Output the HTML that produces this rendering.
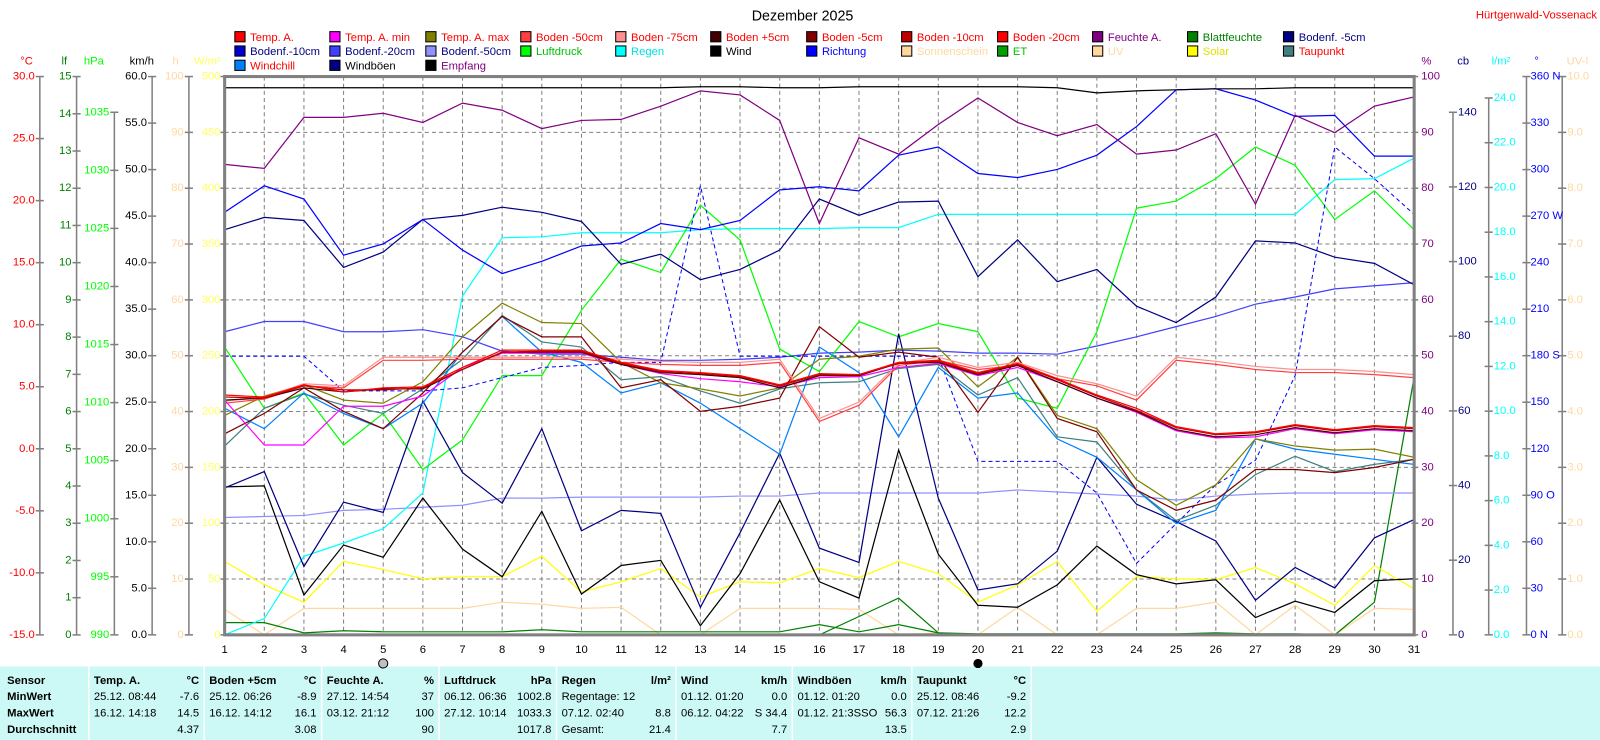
<!DOCTYPE html>
<html><head><meta charset="utf-8"><style>
html,body{margin:0;padding:0;background:#fff;overflow:hidden}
svg{display:block;font-family:"Liberation Sans",sans-serif;font-size:11px}
</style></head><body>
<svg id="s" width="1600" height="740" viewBox="0 0 1567 725" preserveAspectRatio="none" xmlns="http://www.w3.org/2000/svg">
<rect x="0" y="653" width="1567" height="72" fill="#ccf8f6"/>
<g id="grid"></g>
<g id="lines" fill="none" stroke-width="1.2"></g>
<rect x="220" y="75" width="1165" height="547" fill="none" stroke="#808080" stroke-width="3"/>
<g id="ax" stroke="#808080" stroke-width="1.5"></g>
<text x="786" y="20" text-anchor="middle" font-size="14">Dezember 2025</text>
<text x="1564" y="18" text-anchor="end" fill="#ff0000">Hürtgenwald-Vossenack</text>
<g id="leg"></g>
<g font-size="11">
<text x="26" y="63" fill="#ff0000" text-anchor="middle">°C</text>
<text x="63" y="63" fill="#008000" text-anchor="middle">lf</text>
<text x="92" y="63" fill="#00ff00" text-anchor="middle">hPa</text>
<text x="127" y="63" fill="#000">km/h</text>
<text x="172" y="63" fill="#ffd8a0" text-anchor="middle">h</text>
<text x="203" y="63" fill="#ffff60" text-anchor="middle">W/m²</text>
<text x="1397" y="63" fill="#800080" text-anchor="middle">%</text>
<text x="1433" y="63" fill="#000080" text-anchor="middle">cb</text>
<text x="1470" y="63" fill="#00ffff" text-anchor="middle">l/m²</text>
<text x="1505" y="63" fill="#0000ff" text-anchor="middle">°</text>
<text x="1545" y="63" fill="#ffd8a0" text-anchor="middle">UV-I</text>
</g>
<g fill="#ff0000" text-anchor="end" dominant-baseline="central">
<text x="34" y="75">30.0</text><text x="34" y="135.8">25.0</text><text x="34" y="196.6">20.0</text><text x="34" y="257.3">15.0</text><text x="34" y="318.1">10.0</text><text x="34" y="378.9">5.0</text><text x="34" y="439.7">0.0</text><text x="34" y="500.4">-5.0</text><text x="34" y="561.2">-10.0</text><text x="34" y="622">-15.0</text>
</g>
<g fill="#008000" text-anchor="end" dominant-baseline="central">
<text x="70" y="75">15</text><text x="70" y="111.5">14</text><text x="70" y="147.9">13</text><text x="70" y="184.4">12</text><text x="70" y="220.9">11</text><text x="70" y="257.3">10</text><text x="70" y="293.8">9</text><text x="70" y="330.3">8</text><text x="70" y="366.7">7</text><text x="70" y="403.2">6</text><text x="70" y="439.7">5</text><text x="70" y="476.1">4</text><text x="70" y="512.6">3</text><text x="70" y="549.1">2</text><text x="70" y="585.5">1</text><text x="70" y="622">0</text>
</g>
<g fill="#00ff00" text-anchor="end" dominant-baseline="central">
<text x="107" y="110">1035</text><text x="107" y="166.9">1030</text><text x="107" y="223.8">1025</text><text x="107" y="280.7">1020</text><text x="107" y="337.6">1015</text><text x="107" y="394.4">1010</text><text x="107" y="451.3">1005</text><text x="107" y="508.2">1000</text><text x="107" y="565.1">995</text><text x="107" y="622">990</text>
</g>
<g fill="#000" text-anchor="end" dominant-baseline="central">
<text x="144" y="75">60.0</text><text x="144" y="120.6">55.0</text><text x="144" y="166.2">50.0</text><text x="144" y="211.8">45.0</text><text x="144" y="257.3">40.0</text><text x="144" y="302.9">35.0</text><text x="144" y="348.5">30.0</text><text x="144" y="394.1">25.0</text><text x="144" y="439.7">20.0</text><text x="144" y="485.3">15.0</text><text x="144" y="530.8">10.0</text><text x="144" y="576.4">5.0</text><text x="144" y="622">0.0</text>
</g>
<g fill="#ffd8a0" text-anchor="end" dominant-baseline="central">
<text x="180" y="75">100</text><text x="180" y="129.7">90</text><text x="180" y="184.4">80</text><text x="180" y="239.1">70</text><text x="180" y="293.8">60</text><text x="180" y="348.5">50</text><text x="180" y="403.2">40</text><text x="180" y="457.9">30</text><text x="180" y="512.6">20</text><text x="180" y="567.3">10</text><text x="180" y="622">0</text>
</g>
<g fill="#ffff60" text-anchor="end" dominant-baseline="central">
<text x="216" y="75">500</text><text x="216" y="129.7">450</text><text x="216" y="184.4">400</text><text x="216" y="239.1">350</text><text x="216" y="293.8">300</text><text x="216" y="348.5">250</text><text x="216" y="403.2">200</text><text x="216" y="457.9">150</text><text x="216" y="512.6">100</text><text x="216" y="567.3">50</text><text x="216" y="622">0</text>
</g>
<g fill="#800080" dominant-baseline="central">
<text x="1392" y="75">100</text><text x="1392" y="129.7">90</text><text x="1392" y="184.4">80</text><text x="1392" y="239.1">70</text><text x="1392" y="293.8">60</text><text x="1392" y="348.5">50</text><text x="1392" y="403.2">40</text><text x="1392" y="457.9">30</text><text x="1392" y="512.6">20</text><text x="1392" y="567.3">10</text><text x="1392" y="622">0</text>
</g>
<g fill="#000080" dominant-baseline="central">
<text x="1428" y="110">140</text><text x="1428" y="183.1">120</text><text x="1428" y="256.3">100</text><text x="1428" y="329.4">80</text><text x="1428" y="402.6">60</text><text x="1428" y="475.7">40</text><text x="1428" y="548.9">20</text><text x="1428" y="622">0</text>
</g>
<g fill="#00ffff" dominant-baseline="central">
<text x="1463" y="96">24.0</text><text x="1463" y="139.8">22.0</text><text x="1463" y="183.7">20.0</text><text x="1463" y="227.5">18.0</text><text x="1463" y="271.3">16.0</text><text x="1463" y="315.2">14.0</text><text x="1463" y="359">12.0</text><text x="1463" y="402.8">10.0</text><text x="1463" y="446.7">8.0</text><text x="1463" y="490.5">6.0</text><text x="1463" y="534.3">4.0</text><text x="1463" y="578.2">2.0</text><text x="1463" y="622">0.0</text>
</g>
<g fill="#0000ff" dominant-baseline="central">
<text x="1499" y="75">360 N</text><text x="1499" y="120.6">330</text><text x="1499" y="166.2">300</text><text x="1499" y="211.8">270 W</text><text x="1499" y="257.3">240</text><text x="1499" y="302.9">210</text><text x="1499" y="348.5">180 S</text><text x="1499" y="394.1">150</text><text x="1499" y="439.7">120</text><text x="1499" y="485.3">90  O</text><text x="1499" y="530.8">60</text><text x="1499" y="576.4">30</text><text x="1499" y="622">0  N</text>
</g>
<g fill="#ffd8a0" dominant-baseline="central">
<text x="1535" y="75">10.0</text><text x="1535" y="129.7">9.0</text><text x="1535" y="184.4">8.0</text><text x="1535" y="239.1">7.0</text><text x="1535" y="293.8">6.0</text><text x="1535" y="348.5">5.0</text><text x="1535" y="403.2">4.0</text><text x="1535" y="457.9">3.0</text><text x="1535" y="512.6">2.0</text><text x="1535" y="567.3">1.0</text><text x="1535" y="622">0.0</text>
</g>
<g text-anchor="middle" dominant-baseline="central">
<text x="220" y="637">1</text><text x="258.8" y="637">2</text><text x="297.7" y="637">3</text><text x="336.5" y="637">4</text><text x="375.3" y="637">5</text><text x="414.2" y="637">6</text><text x="453" y="637">7</text><text x="491.8" y="637">8</text><text x="530.6" y="637">9</text><text x="569.5" y="637">10</text><text x="608.3" y="637">11</text><text x="647.1" y="637">12</text><text x="686" y="637">13</text><text x="724.8" y="637">14</text><text x="763.6" y="637">15</text><text x="802.5" y="637">16</text><text x="841.3" y="637">17</text><text x="880.1" y="637">18</text><text x="918.9" y="637">19</text><text x="957.8" y="637">20</text><text x="996.6" y="637">21</text><text x="1035.4" y="637">22</text><text x="1074.3" y="637">23</text><text x="1113.1" y="637">24</text><text x="1151.9" y="637">25</text><text x="1190.8" y="637">26</text><text x="1229.6" y="637">27</text><text x="1268.4" y="637">28</text><text x="1307.2" y="637">29</text><text x="1346.1" y="637">30</text><text x="1384.9" y="637">31</text>
</g>
<circle cx="375.3" cy="650" r="4.5" fill="#c0c0c0" stroke="#000" stroke-width="1"/>
<circle cx="957.8" cy="650" r="4.5" fill="#000"/>
<g stroke="#fff" stroke-width="1.5">
<line x1="87" y1="653" x2="87" y2="725"/><line x1="200" y1="653" x2="200" y2="725"/><line x1="315" y1="653" x2="315" y2="725"/><line x1="430" y1="653" x2="430" y2="725"/><line x1="545" y1="653" x2="545" y2="725"/><line x1="662" y1="653" x2="662" y2="725"/><line x1="776" y1="653" x2="776" y2="725"/><line x1="893" y1="653" x2="893" y2="725"/><line x1="1010" y1="653" x2="1010" y2="725"/>
</g>
<g font-size="11">
<g font-weight="bold"><text x="7" y="670">Sensor</text><text x="7" y="686">MinWert</text><text x="7" y="702">MaxWert</text><text x="7" y="718">Durchschnitt</text>
<text x="92" y="670">Temp. A.</text><text x="195" y="670" text-anchor="end">°C</text>
<text x="205" y="670">Boden +5cm</text><text x="310" y="670" text-anchor="end">°C</text>
<text x="320" y="670">Feuchte A.</text><text x="425" y="670" text-anchor="end">%</text>
<text x="435" y="670">Luftdruck</text><text x="540" y="670" text-anchor="end">hPa</text>
<text x="550" y="670">Regen</text><text x="657" y="670" text-anchor="end">l/m²</text>
<text x="667" y="670">Wind</text><text x="771" y="670" text-anchor="end">km/h</text>
<text x="781" y="670">Windböen</text><text x="888" y="670" text-anchor="end">km/h</text>
<text x="898" y="670">Taupunkt</text><text x="1005" y="670" text-anchor="end">°C</text></g>
<text x="92" y="686">25.12.  08:44</text><text x="195" y="686" text-anchor="end">-7.6</text>
<text x="92" y="702">16.12.  14:18</text><text x="195" y="702" text-anchor="end">14.5</text>
<text x="195" y="718" text-anchor="end">4.37</text>
<text x="205" y="686">25.12.  06:26</text><text x="310" y="686" text-anchor="end">-8.9</text>
<text x="205" y="702">16.12.  14:12</text><text x="310" y="702" text-anchor="end">16.1</text>
<text x="310" y="718" text-anchor="end">3.08</text>
<text x="320" y="686">27.12.  14:54</text><text x="425" y="686" text-anchor="end">37</text>
<text x="320" y="702">03.12.  21:12</text><text x="425" y="702" text-anchor="end">100</text>
<text x="425" y="718" text-anchor="end">90</text>
<text x="435" y="686">06.12.  06:36</text><text x="540" y="686" text-anchor="end">1002.8</text>
<text x="435" y="702">27.12.  10:14</text><text x="540" y="702" text-anchor="end">1033.3</text>
<text x="540" y="718" text-anchor="end">1017.8</text>
<text x="550" y="686">Regentage: 12</text>
<text x="550" y="702">07.12.  02:40</text><text x="657" y="702" text-anchor="end">8.8</text>
<text x="550" y="718">Gesamt:</text><text x="657" y="718" text-anchor="end">21.4</text>
<text x="667" y="686">01.12.  01:20</text><text x="771" y="686" text-anchor="end">0.0</text>
<text x="667" y="702">06.12.  04:22</text><text x="771" y="702" text-anchor="end">S 34.4</text>
<text x="771" y="718" text-anchor="end">7.7</text>
<text x="781" y="686">01.12.  01:20</text><text x="888" y="686" text-anchor="end">0.0</text>
<text x="781" y="702">01.12.  21:3SSO</text><text x="888" y="702" text-anchor="end">56.3</text>
<text x="888" y="718" text-anchor="end">13.5</text>
<text x="898" y="686">25.12.  08:46</text><text x="1005" y="686" text-anchor="end">-9.2</text>
<text x="898" y="702">07.12.  21:26</text><text x="1005" y="702" text-anchor="end">12.2</text>
<text x="1005" y="718" text-anchor="end">2.9</text>
</g>
<g font-size="11">
<rect x="230" y="31" width="10" height="10" fill="#ff0000" stroke="#000"/><text x="245" y="40" fill="#ff0000">Temp. A.</text>
<rect x="323" y="31" width="10" height="10" fill="#ff00ff" stroke="#000"/><text x="338" y="40" fill="#ff0000">Temp. A. min</text>
<rect x="417" y="31" width="10" height="10" fill="#808000" stroke="#000"/><text x="432" y="40" fill="#ff0000">Temp. A. max</text>
<rect x="510" y="31" width="10" height="10" fill="#ff4040" stroke="#000"/><text x="525" y="40" fill="#ff0000">Boden -50cm</text>
<rect x="603" y="31" width="10" height="10" fill="#ff9090" stroke="#000"/><text x="618" y="40" fill="#ff0000">Boden -75cm</text>
<rect x="696" y="31" width="10" height="10" fill="#400000" stroke="#000"/><text x="711" y="40" fill="#ff0000">Boden +5cm</text>
<rect x="790" y="31" width="10" height="10" fill="#800000" stroke="#000"/><text x="805" y="40" fill="#ff0000">Boden -5cm</text>
<rect x="883" y="31" width="10" height="10" fill="#c00000" stroke="#000"/><text x="898" y="40" fill="#ff0000">Boden -10cm</text>
<rect x="977" y="31" width="10" height="10" fill="#ff0000" stroke="#000"/><text x="992" y="40" fill="#ff0000">Boden -20cm</text>
<rect x="1070" y="31" width="10" height="10" fill="#800080" stroke="#000"/><text x="1085" y="40" fill="#800080">Feuchte A.</text>
<rect x="1163" y="31" width="10" height="10" fill="#008000" stroke="#000"/><text x="1178" y="40" fill="#008000">Blattfeuchte</text>
<rect x="1257" y="31" width="10" height="10" fill="#000080" stroke="#000"/><text x="1272" y="40" fill="#000080">Bodenf. -5cm</text>
<rect x="230" y="45" width="10" height="10" fill="#0000d0" stroke="#000"/><text x="245" y="54" fill="#000080">Bodenf.-10cm</text>
<rect x="323" y="45" width="10" height="10" fill="#4040ff" stroke="#000"/><text x="338" y="54" fill="#000080">Bodenf.-20cm</text>
<rect x="417" y="45" width="10" height="10" fill="#9090ff" stroke="#000"/><text x="432" y="54" fill="#000080">Bodenf.-50cm</text>
<rect x="510" y="45" width="10" height="10" fill="#00ff00" stroke="#000"/><text x="525" y="54" fill="#00c000">Luftdruck</text>
<rect x="603" y="45" width="10" height="10" fill="#00ffff" stroke="#000"/><text x="618" y="54" fill="#00e0e0">Regen</text>
<rect x="696" y="45" width="10" height="10" fill="#000" stroke="#000"/><text x="711" y="54" fill="#000">Wind</text>
<rect x="790" y="45" width="10" height="10" fill="#0000ff" stroke="#000"/><text x="805" y="54" fill="#0000ff">Richtung</text>
<rect x="883" y="45" width="10" height="10" fill="#ffd8a0" stroke="#000"/><text x="898" y="54" fill="#ffd8a0">Sonnenschein</text>
<rect x="977" y="45" width="10" height="10" fill="#00a000" stroke="#000"/><text x="992" y="54" fill="#00c000">ET</text>
<rect x="1070" y="45" width="10" height="10" fill="#ffd8a0" stroke="#000"/><text x="1085" y="54" fill="#ffd8a0">UV</text>
<rect x="1163" y="45" width="10" height="10" fill="#ffff00" stroke="#000"/><text x="1178" y="54" fill="#e0e000">Solar</text>
<rect x="1257" y="45" width="10" height="10" fill="#408080" stroke="#000"/><text x="1272" y="54" fill="#ff0000">Taupunkt</text>
<rect x="230" y="59" width="10" height="10" fill="#0080ff" stroke="#000"/><text x="245" y="68" fill="#ff0000">Windchill</text>
<rect x="323" y="59" width="10" height="10" fill="#000080" stroke="#000"/><text x="338" y="68" fill="#000">Windböen</text>
<rect x="417" y="59" width="10" height="10" fill="#000" stroke="#000"/><text x="432" y="68" fill="#800080">Empfang</text>
</g>
</svg>
<script>
var NS="http://www.w3.org/2000/svg";
function X(d){return 220+(d-1)*38.83;}
function el(p,t,a){var e=document.createElementNS(NS,t);for(var k in a)e.setAttribute(k,a[k]);p.appendChild(e);return e;}
var g=document.getElementById('grid');
for(var d=2;d<=30;d++)el(g,'line',{x1:X(d),y1:75,x2:X(d),y2:622,stroke:'#808080','stroke-dasharray':'4,3','stroke-width':1});
for(var i=1;i<10;i++){var y=75+i*54.7;el(g,'line',{x1:220,y1:y,x2:1385,y2:y,stroke:'#808080','stroke-dasharray':'4,3','stroke-width':1});}
var ax=document.getElementById('ax');
function axis(x,y0,y1,step,side){el(ax,'line',{x1:x,y1:y0,x2:x,y2:622});for(var y=y1;y<=622.5;y+=step){el(ax,'line',{x1:side?x-4:x-4,y1:y,x2:side?x+4:x+4,y2:y});}}
axis(39,75,75,60.78);axis(75,75,75,36.47);axis(112,110,110,56.89);axis(149,75,75,45.58);axis(185,75,75,54.7);
for(var y=75;y<=623;y+=54.7){el(ax,'line',{x1:216,y1:y,x2:220,y2:y});el(ax,'line',{x1:1385,y1:y,x2:1389,y2:y});}
axis(1423,110,110,73.14);axis(1458,96,96,43.83);axis(1495,75,75,45.58);axis(1530,75,75,54.7);
var L=document.getElementById('lines');
function pl(c,v,w,dash){var p=v.map(function(y,i){return X(i+1)+','+y}).join(' ');var a={points:p,stroke:c};if(w)a['stroke-width']=w;if(dash)a['stroke-dasharray']=dash;el(L,'polyline',a);}
var S={};
pl('#ffd8a0',[597,622,596,596,596,596,596,590,592,596,595,622,622,596,596,596,597,622,620,622,595,622,622,596,596,590,622,593,622,596,597]);
pl('#008000',[610,610,620,618,619,619,619,619,617,619,619,619,619,619,619,612,619,612,620,621,621,621,621,621,621,620,621,621,622,590,370]);
pl('#008000',[622,622,622,622,622,622,622,622,622,622,622,622,622,622,622,622,604,586,620,622,622,622,622,622,622,622,622,622,622,622,622]);
pl('#ffff00',[550,573,590,550,558,567,565,565,545,580,570,557,585,570,571,557,566,550,562,590,573,550,599,565,567,568,556,572,593,554,577]);
pl('#9090ff',[507,506,505,500,499,497,495,488,488,487,487,487,487,486,486,483,483,483,483,483,480,482,484,486,490,486,484,483,483,483,483]);
pl('#4040ff',[325,315,315,325,325,323,330,344,347,347,350,353,353,352,350,346,345,343,344,346,346,347,339,330,320,310,298,291,283,280,277]);
pl('#00ffff',[622,606,545,532,518,483,290,233,232,228,228,228,225,224,224,224,223,223,210,210,210,210,210,210,210,210,210,210,176,175,155]);
pl('#00ff00',[340,400,385,436,405,460,431,368,368,304,254,267,201,235,342,364,315,330,317,325,390,400,325,204,197,175,144,162,215,187,225]);
pl('#000000',[477,476,583,534,546,488,538,565,501,582,554,549,613,562,490,570,586,441,543,593,595,573,535,563,572,568,605,589,600,569,567]);
pl('#0000ff',[349,349,349,383,383,383,380,370,360,358,355,355,182,349,349,349,349,349,349,452,452,452,483,552,513,475,451,368,144,175,210],1,'4,3');
pl('#000080',[478,462,555,492,502,393,463,493,420,520,500,503,595,522,444,537,551,327,488,578,572,540,448,494,511,530,588,556,576,527,509]);
pl('#408080',[437,400,386,397,405,381,352,309,335,340,372,369,383,395,381,375,374,361,357,387,370,428,433,480,510,495,465,447,462,455,450]);
pl('#0080ff',[400,420,385,405,420,395,345,310,345,355,385,375,395,420,445,340,365,428,360,390,385,430,448,480,513,500,430,440,445,450,455]);
pl('#808000',[407,388,377,392,395,374,330,297,316,317,355,375,381,388,380,352,349,342,341,379,350,407,420,470,495,475,430,437,441,440,448]);
pl('#800000',[425,405,380,403,420,385,345,310,330,330,380,372,403,398,390,320,350,345,350,404,350,410,423,480,500,490,460,460,463,458,450]);
pl('#ff9090',[393,389,376,378,350,350,350,350,350,350,352,354,355,355,352,410,394,356,350,360,355,368,376,388,350,354,359,362,362,364,367]);
pl('#ff4040',[395,391,378,380,353,353,352,352,352,352,355,357,358,358,355,413,397,358,353,362,358,371,378,392,353,357,362,365,365,367,370]);
pl('#ff00ff',[392,436,436,398,398,388,360,346,346,346,357,366,371,374,379,370,369,360,356,368,360,374,390,404,422,429,428,420,425,421,423]);
pl('#400000',[392,390,380,384,381,381,362,345,345,345,357,365,367,370,380,368,368,356,355,367,358,374,390,403,421,428,426,419,424,420,422]);
pl('#c00000',[389,390,378,382,382,380,362,345,344,344,356,364,366,369,378,367,367,356,354,366,357,372,388,402,419,426,424,417,422,418,420]);
pl('#ff0000',[387,389,377,384,380,379,360,343,343,343,355,363,365,368,377,366,367,355,353,365,356,371,387,400,418,425,423,416,421,417,419]);
pl('#000080',[225,213,216,262,247,215,211,203,208,217,259,249,274,264,245,195,211,198,197,271,235,276,264,300,316,291,236,238,252,258,279]);
pl('#0000ff',[208,182,195,250,239,215,245,268,256,241,238,219,225,216,186,183,187,152,144,170,174,166,152,124,88,87,98,114,113,153,153]);
pl('#800080',[161,165,115,115,111,120,101,108,126,118,117,104,89,93,118,219,135,151,122,96,120,133,122,151,147,131,200,113,130,104,95]);
pl('#000000',[86,86,86,86,86,86,86,86,86,86,86,86,85,85,86,86,85,85,85,85,85,86,91,89,88,87,87,86,86,86,86]);
</script>
</body></html>
